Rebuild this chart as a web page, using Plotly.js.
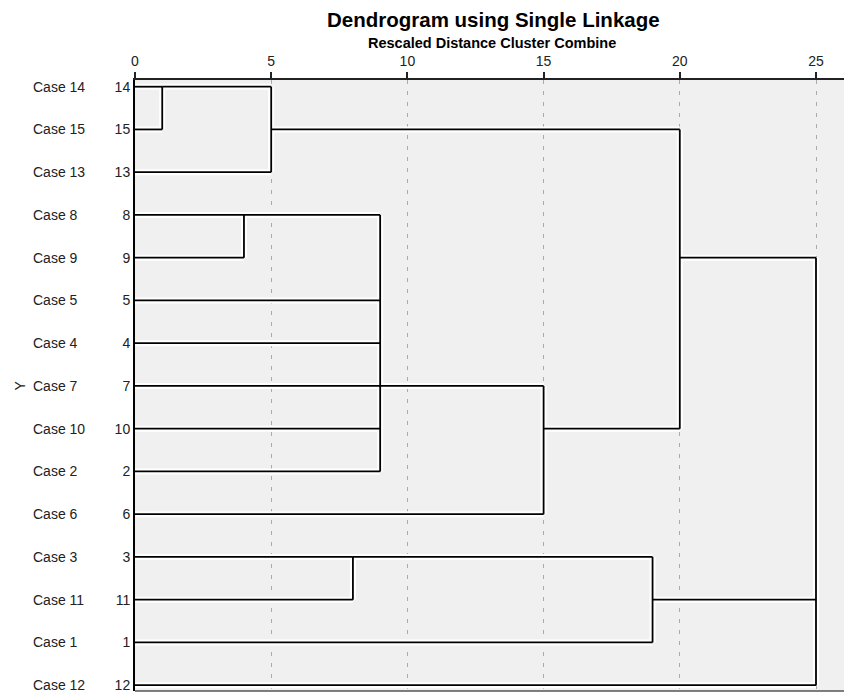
<!DOCTYPE html>
<html>
<head>
<meta charset="utf-8">
<script src="https://cdn.plot.ly/plotly-3.0.1.min.js"></script>
<style>html,body{margin:0;padding:0;background:#fff;}#chart{width:844px;height:694px;}</style>
</head>
<body>
<div id="chart"></div>
<script>
// ---- data ----
const caseOrder = ["14","15","13","8","9","5","4","7","10","2","6","3","11","1","12"]; // top to bottom
const caseLabels = caseOrder.map(n => "Case " + n);
const xTickValues = [0, 5, 10, 15, 20, 25];

// merges: members (case numbers or earlier merge ids), distance, and the row where the link is drawn
const mergeIds      = ["m0","m1","m2","m3","m4","m5","m6","m7","m8"];
const mergeMembers  = [
  ["14","15"],
  ["m0","13"],
  ["8","9"],
  ["m2","5","4","7","10","2"],
  ["m3","6"],
  ["m1","m4"],
  ["3","11"],
  ["m6","1"],
  ["m5","m7","12"]
];
const mergeDistance = [1, 5, 4, 9, 15, 20, 8, 19, 25];
const mergeLinkRow  = ["14","15","8","7","10","9","3","11", null];

// ---- build dendrogram segments (y in row-index units, top row = 0) ----
const rowIndex = r => caseOrder.indexOf(r);
const nodeX = {}, nodeRow = {};
caseOrder.forEach(c => { nodeX[c] = 0; nodeRow[c] = rowIndex(c); });
mergeIds.forEach((id, i) => { nodeX[id] = mergeDistance[i]; nodeRow[id] = mergeLinkRow[i] === null ? null : rowIndex(mergeLinkRow[i]); });

const segX = [], segY = [];
mergeIds.forEach((id, i) => {
  const d = mergeDistance[i];
  const rows = mergeMembers[i].map(m => nodeRow[m]);
  mergeMembers[i].forEach(m => {
    segX.push(nodeX[m], d, null);
    segY.push(nodeRow[m], nodeRow[m], null);
  });
  segX.push(d, d, null);
  segY.push(Math.min(...rows), Math.max(...rows), null);
});

const halo = {x: segX, y: segY, type: "scatter", mode: "lines", hoverinfo: "skip",
  line: {color: "#ffffff", width: 6}, showlegend: false};
const links = {x: segX, y: segY, type: "scatter", mode: "lines", hoverinfo: "skip",
  line: {color: "#000000", width: 1.8}, showlegend: false};

const W = 844, H = 694, L = 135, R = 0, T = 80, B = 3;
const pw = W - L - R, ph = H - T - B;
const px = x => (x - L) / pw;
const py = y => 1 - (y - T) / ph;
const FONT = "Liberation Sans, Arial, sans-serif";

const annotations = caseOrder.map((c, i) => ({
  x: px(31), xref: "paper", xanchor: "left", y: i, yref: "y", yanchor: "middle",
  text: caseLabels[i], showarrow: false, font: {family: FONT, size: 14, color: "#222"}
}));
annotations.push({x: px(493), xref: "paper", y: py(20), yref: "paper", xanchor: "center", yanchor: "middle",
  text: "<b>Dendrogram using Single Linkage</b>", showarrow: false,
  font: {family: FONT, size: 20.5, color: "#000"}});
annotations.push({x: px(492), xref: "paper", y: py(43), yref: "paper", xanchor: "center", yanchor: "middle",
  text: "<b>Rescaled Distance Cluster Combine</b>", showarrow: false,
  font: {family: FONT, size: 14.5, color: "#000"}});
annotations.push({x: px(19), xref: "paper", y: 0.5, yref: "paper", xanchor: "center", yanchor: "middle",
  text: "Y", textangle: -90, showarrow: false, font: {family: FONT, size: 14, color: "#222"}});

const layout = {
  width: W, height: H,
  margin: {l: L, r: R, t: T, b: B, pad: 0},
  paper_bgcolor: "#ffffff", plot_bgcolor: "#f0f0f0",
  showlegend: false,
  xaxis: {side: "top", range: [0, pw / 27.24], tickvals: xTickValues, ticktext: xTickValues.map(String),
    ticks: "outside", ticklen: 6, tickwidth: 2, tickcolor: "#222",
    showline: true, linecolor: "#222", linewidth: 2, zeroline: false,
    showgrid: true, gridcolor: "#aaaaaa", gridwidth: 1, griddash: "4px,7px",
    tickfont: {family: FONT, size: 14, color: "#222"}, fixedrange: true},
  yaxis: {range: [14 + 5.8 / 42.75, -6.7 / 42.75],
    tickvals: caseOrder.map((c, i) => i), ticktext: caseOrder,
    ticks: "", showline: true, linecolor: "#000", linewidth: 2, showgrid: false, zeroline: false,
    tickfont: {family: FONT, size: 14, color: "#222"}, fixedrange: true},
  annotations: annotations,
  shapes: [{type: "line", xref: "paper", yref: "paper", x0: 0, x1: 1, y0: 0, y1: 0,
    line: {color: "#555", width: 1.5}}]
};

Plotly.newPlot("chart", [halo, links], layout, {displayModeBar: false, staticPlot: true});
</script>
</body>
</html>
